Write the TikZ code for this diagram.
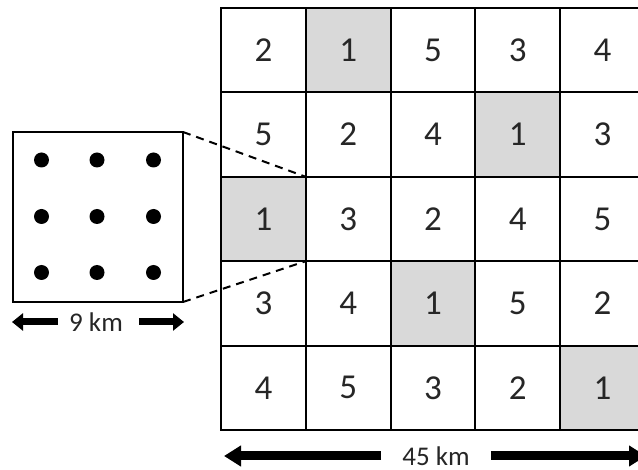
\documentclass[tikz,border=0pt]{standalone}
\usepackage{fontspec}
\setmainfont{Carlito}
\usetikzlibrary{arrows.meta}
\definecolor{cellgray}{HTML}{D9D9D9}
\tikzset{
  x=1pt, y=-1pt,
  cell/.style={draw=black, line width=2pt, minimum width=84.75pt, minimum height=84.4pt,
    inner sep=0pt, outer sep=0pt, font=\fontsize{35}{40}\selectfont, text=black!85},
  hit/.style={cell, fill=cellgray},
  zoombox/.style={draw=black, line width=2.5pt, minimum width=170pt, minimum height=170pt,
    inner sep=0pt, outer sep=0pt},
  well/.style={circle, fill=black, minimum size=15pt, inner sep=0pt},
  link/.style={line width=2pt, dash pattern=on 8pt off 6pt},
  scalelabel/.style={font=\fontsize{27}{30}\selectfont, text=black!85},
  smallarrow/.style={line width=7pt, -{Triangle[length=11pt,width=17pt]}},
  bigarrow/.style={line width=9pt, -{Triangle[length=17pt,width=20pt]}},
}
\begin{document}
\begin{tikzpicture}
\clip (0,0) rectangle (638,470);
\fill[white] (0,0) rectangle (638,470);

% 5 x 5 grid of cells; shaded cells hold the value 1
\foreach \r/\vals in {1/{2,1,5,3,4}, 2/{5,2,4,1,3}, 3/{1,3,2,4,5}, 4/{3,4,1,5,2}, 5/{4,5,3,2,1}} {
  \foreach \v [count=\c] in \vals {
    \pgfmathsetmacro{\cx}{221+84.75*(\c-0.5)}
    \pgfmathsetmacro{\cy}{8+84.4*(\r-0.5)}
    \ifnum\v=1
      \node[hit] (c\r\c) at (\cx,\cy) {\v};
    \else
      \node[cell] (c\r\c) at (\cx,\cy) {\v};
    \fi
  }
}

% enlarged view of one cell with its 3 x 3 wells
\node[zoombox] (zoom) at (98,217) {};
\foreach \i/\wx in {1/41.5, 2/97, 3/153.5} {
  \foreach \j/\wy in {1/160, 2/216.5, 3/272.5} {
    \node[well] (w\i\j) at (\wx,\wy) {};
  }
}
\draw[link] (zoom.north east) -- (c31.north east);
\draw[link] (zoom.south east) -- (c31.south east);

% scale bars
\node[scalelabel, inner sep=0pt] (small) at (96,322) {9 km};
\coordinate (smallL) at (12,322);
\coordinate (smallR) at (184,322);
\draw[smallarrow] ([xshift=-11pt]small.west) -- (smallL);
\draw[smallarrow] ([xshift=16pt]small.east) -- (smallR);

\node[scalelabel, inner sep=0pt] (big) at (436,456) {45 km};
\coordinate (bigL) at (224,456);
\coordinate (bigR) at (646,456);
\draw[bigarrow] ([xshift=-21pt]big.west |- bigL) -- (bigL);
\draw[bigarrow] ([xshift=21pt]big.east |- bigR) -- (bigR);
\end{tikzpicture}
\end{document}
